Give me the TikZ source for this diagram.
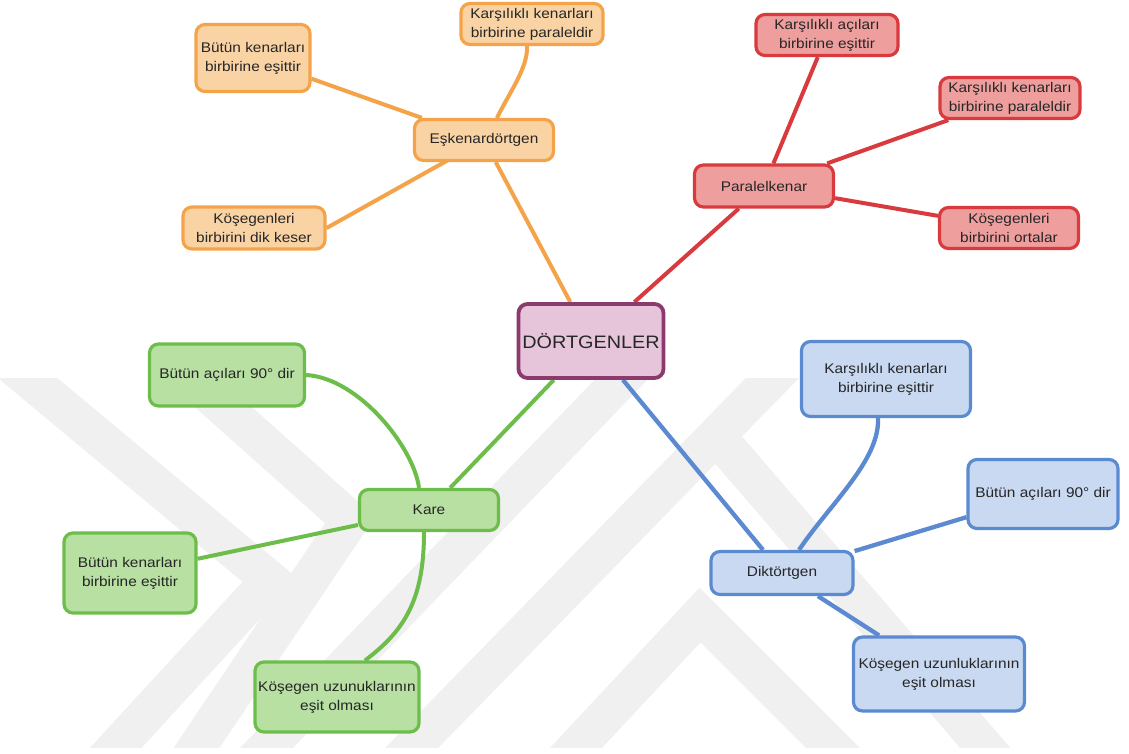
\documentclass[tikz,border=0pt]{standalone}
\usepackage{fontspec}
\setmainfont{Liberation Sans}[FakeStretch=1.1]
\usetikzlibrary{backgrounds}
\pgfdeclarelayer{wm}
\pgfsetlayers{wm,background,main}
\definecolor{txt}{HTML}{262626}
\definecolor{oline}{HTML}{F4A349}
\definecolor{ofill}{HTML}{FAD3A5}
\definecolor{rline}{HTML}{D83A3E}
\definecolor{rfill}{HTML}{EF9E9E}
\definecolor{pline}{HTML}{8B3A6D}
\definecolor{pfill}{HTML}{E6C5DA}
\definecolor{gline}{HTML}{6DBD4A}
\definecolor{gfill}{HTML}{B7E0A2}
\definecolor{bline}{HTML}{5B8AD1}
\definecolor{bfill}{HTML}{C8D9F1}
\definecolor{wmark}{HTML}{F0F0F0}
\begin{document}
\begin{tikzpicture}[x=1pt,y=-1pt,
  box/.style={draw, rounded corners=9pt, line width=3.2pt, align=center,
    inner sep=0pt, text=txt, font=\fontsize{14}{19}\selectfont},
  obox/.style={box, draw=oline, fill=ofill},
  rbox/.style={box, draw=rline, fill=rfill},
  gbox/.style={box, draw=gline, fill=gfill},
  bbox/.style={box, draw=bline, fill=bfill},
  pbox/.style={box, draw=pline, fill=pfill, line width=3.8pt, font=\fontsize{18}{22}\selectfont},
  oc/.style={draw=oline, line width=4pt},
  rc/.style={draw=rline, line width=4pt},
  gc/.style={draw=gline, line width=4pt},
  bc/.style={draw=bline, line width=4.3pt},
  wm/.style={draw=wmark, line width=38pt, line join=miter}
]
\useasboundingbox (0,0) rectangle (1129,753);

% center
\node[pbox, minimum width=145pt, minimum height=74pt] (dg) at (591,341) {DÖRTGENLER};

% orange
\node[obox, minimum width=139pt, minimum height=41pt] (ek) at (484,140) {Eşkenardörtgen};
\node[obox, minimum width=114pt, minimum height=67pt] (ob) at (253,58) {Bütün kenarları\\birbirine eşittir};
\node[obox, minimum width=142pt, minimum height=41pt] (ok) at (532,24) {Karşılıklı kenarları\\birbirine paraleldir};
\node[obox, minimum width=142pt, minimum height=42pt] (ks) at (254,228) {Köşegenleri\\birbirini dik keser};

% red
\node[rbox, minimum width=139pt, minimum height=42pt] (pk) at (764,186) {Paralelkenar};
\node[rbox, minimum width=142pt, minimum height=41pt] (ra) at (827,35) {Karşılıklı açıları\\birbirine eşittir};
\node[rbox, minimum width=140pt, minimum height=41pt] (rk) at (1010,98) {Karşılıklı kenarları\\birbirine paraleldir};
\node[rbox, minimum width=139pt, minimum height=41pt] (ro) at (1009,228) {Köşegenleri\\birbirini ortalar};

% green
\node[gbox, minimum width=139pt, minimum height=41pt] (kare) at (429,510) {Kare};
\node[gbox, minimum width=155pt, minimum height=62pt] (ga) at (227,375) {Bütün açıları 90° dir};
\node[gbox, minimum width=132pt, minimum height=80pt] (gk) at (130,573) {Bütün kenarları\\birbirine eşittir};
\node[gbox, minimum width=164pt, minimum height=70pt] (gu) at (337,697) {Köşegen uzunuklarının\\eşit olması};

% blue
\node[bbox, minimum width=142pt, minimum height=43pt] (dk) at (782,573) {Diktörtgen};
\node[bbox, minimum width=169pt, minimum height=75pt] (bk) at (886,379) {Karşılıklı kenarları\\birbirine eşittir};
\node[bbox, minimum width=150pt, minimum height=69pt] (ba) at (1043,494) {Bütün açıları 90° dir};
\node[bbox, minimum width=171pt, minimum height=74pt] (bu) at (939,674) {Köşegen uzunluklarının\\eşit olması};

\begin{pgfonlayer}{background}
  \draw[oc] (ek) -- (dg);
  \draw[oc] (ek) -- (ob);
  \draw[oc] (ek.center) -- (ks.east);
  \draw[oc] ([xshift=13pt]ek.north) .. controls +(12,-25) and +(1,22) .. ([xshift=-5pt]ok.south);
  \draw[rc] (pk) -- (dg);
  \draw[rc] (pk) -- (ra);
  \draw[rc] (pk) -- (rk);
  \draw[rc] (pk) -- (ro);
  \draw[gc] (kare) -- (dg);
  \draw[gc] (kare) -- (gk);
  \draw[gc] ([xshift=-10pt]kare.north) .. controls +(-5,-40) and +(53,3) .. (ga.east);
  \draw[gc] ([xshift=-5pt]kare.south) .. controls +(0,67) and +(40,-30) .. ([xshift=28pt]gu.north);
  \draw[bc] (dg) -- (dk);
  \draw[bc] (dk) -- (ba);
  \draw[bc] (dk) -- (bu);
  \draw[bc] ([xshift=17pt]dk.north) .. controls +(31,-46) and +(2,42) .. ([xshift=-8pt]bk.south);
\end{pgfonlayer}

\begin{pgfonlayer}{wm}
  \fill[white] (0,0) rectangle (1129,753);
  \begin{scope}
    \clip (0,378) rectangle (1129,747);
    \draw[wm] (0,355) -- (270,580) -- (100,765);
    \draw[wm] (165,355) -- (350,520) -- (185,765);
    \draw[wm] (250,765) -- (640,360);
    \draw[wm] (395,765) -- (790,360);
    \draw[wm] (560,765) -- (700,615) -- (850,765);
    \draw[wm] (720,440) -- (1000,765);
  \end{scope}
\end{pgfonlayer}
\end{tikzpicture}
\end{document}
